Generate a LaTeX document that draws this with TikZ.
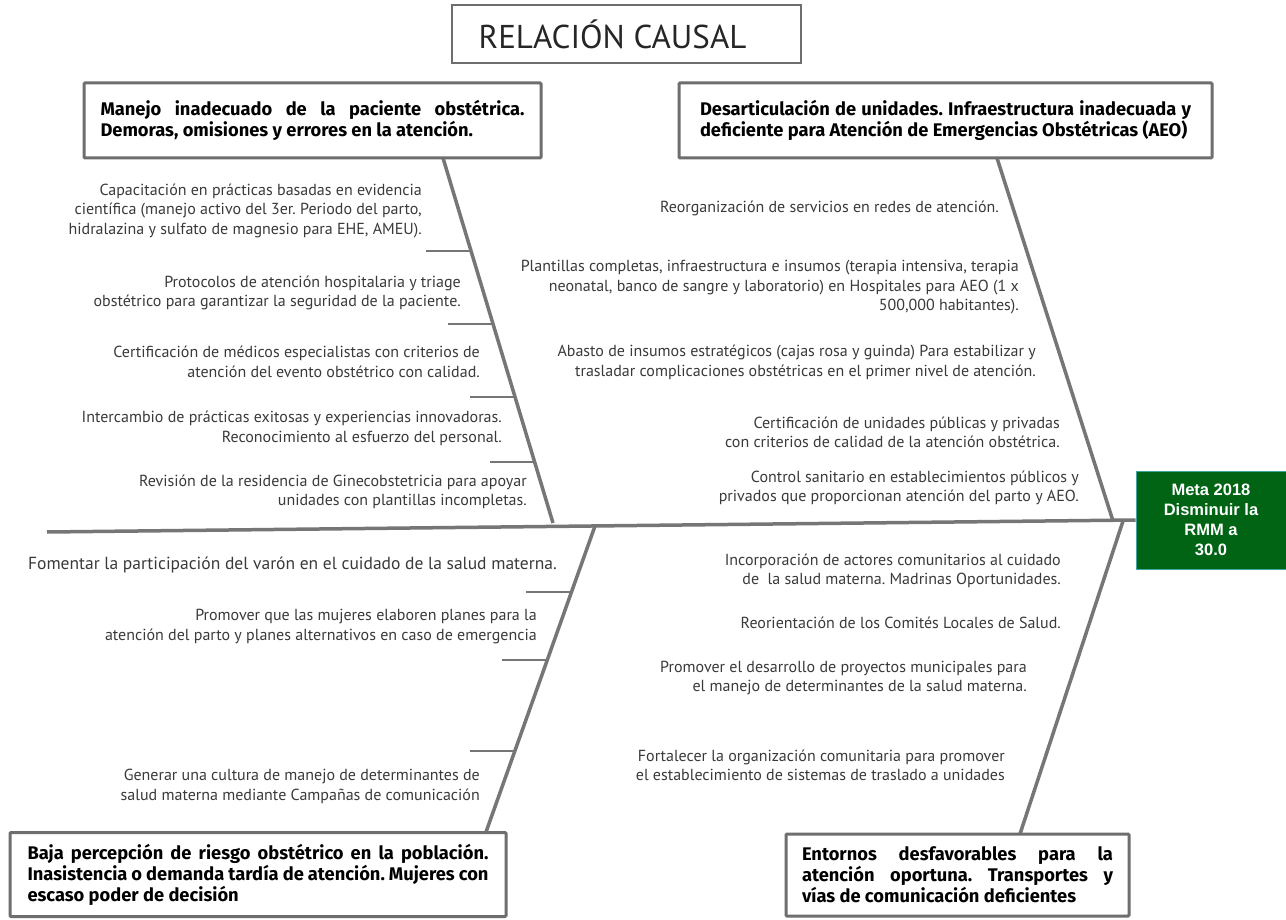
\documentclass[tikz,border=0pt]{standalone}
\usepackage{fontspec}
\setmainfont{PT Sans}
\newfontfamily\boxfont{Fira Sans}
\newfontfamily\arialfont{Liberation Sans}
\usetikzlibrary{calc}
\definecolor{bonegray}{HTML}{767676}
\definecolor{boxgray}{HTML}{6E6E6E}
\definecolor{labelgray}{HTML}{3A3A3A}
\definecolor{goalgreen}{HTML}{006414}
\definecolor{goalborder}{HTML}{3FA7A0}
\frenchspacing
\begin{document}
\begin{tikzpicture}[x=1pt,y=-1pt,
  causebox/.style={draw=boxgray, line width=3pt, fill=white, align=left, rounded corners=1pt,
    font=\boxfont\bfseries\fontsize{18.3}{21}\selectfont, text=black, inner ysep=0pt},
  lbl/.style={align=right, anchor=east, text=labelgray, inner sep=0pt,
    font=\fontsize{16}{19.5}\selectfont},
  bone/.style={draw=bonegray, line width=3.5pt},
  ticksty/.style={draw=bonegray, line width=2.6pt},
]
\useasboundingbox (0,0) rectangle (1286,920);
\fill[white] (0,0) rectangle (1286,920);

% goal
\node[fill=goalgreen, draw=goalborder, line width=0.8pt, minimum width=150pt, minimum height=98pt,
  text=white, align=center, font=\arialfont\bfseries\fontsize{16.5}{20}\selectfont] (goal) at (1211,520)
  {Meta 2018\\Disminuir la\\RMM a\\30.0};

% spine
\coordinate (spineL) at (47,532);
\draw[bone] (spineL) -- (goal.west);

% bone coordinates
\coordinate (tlTop) at (443,158); \coordinate (tlBot) at (553,523);
\coordinate (trTop) at (997,158); \coordinate (trBot) at (1113,521);
\coordinate (blTop) at (595,526); \coordinate (blBot) at (486,832);
\coordinate (brTop) at (1123,521); \coordinate (brBot) at (1020,834);

\draw[bone] (tlTop) -- (tlBot);
\draw[bone] (trTop) -- (trBot);
\draw[bone] (blTop) -- (blBot);
\draw[bone] (brTop) -- (brBot);

% ticks
\coordinate (ta) at ($(tlTop)!0.2548!(tlBot)$);
\coordinate (tb) at ($(tlTop)!0.4548!(tlBot)$);
\coordinate (tc) at ($(tlTop)!0.6548!(tlBot)$);
\coordinate (td) at ($(tlTop)!0.8329!(tlBot)$);
\coordinate (ba) at ($(blTop)!0.2157!(blBot)$);
\coordinate (bb) at ($(blTop)!0.4379!(blBot)$);
\coordinate (bc) at ($(blTop)!0.7353!(blBot)$);
\foreach \t in {ta,tb,tc,td,ba,bb,bc} { \draw[ticksty] (\t) -- ++(-45,0); }

% title
\node[draw=boxgray, line width=2.6pt, minimum width=349pt, minimum height=58pt,
  font=\fontsize{33}{35}\selectfont, text=black!85] (title) at (626.5,34) {\hspace*{-28pt}RELACIÓN CAUSAL};

% cause boxes
\node[causebox, inner xsep=16.5pt, minimum height=75pt] (boxA) at (312.5,120.5)
  {\makebox[424pt][s]{Manejo inadecuado de la paciente obstétrica.}\\
   \makebox[424pt][l]{Demoras, omisiones y errores en la atención.}};
\node[causebox, inner xsep=21pt, minimum height=75pt] (boxB) at (945.5,120.5)
  {\makebox[491pt][s]{Desarticulación de unidades. Infraestructura inadecuada y}\\
   \makebox[491pt][l]{deficiente para Atención de Emergencias Obstétricas (AEO)}};
\node[causebox, inner xsep=17.5pt, minimum height=84pt] (boxC) at (258,874.5)
  {\makebox[461pt][s]{Baja percepción de riesgo obstétrico en la población.}\\
   \makebox[461pt][s]{Inasistencia o demanda tardía de atención. Mujeres con}\\
   \makebox[461pt][l]{escaso poder de decisión}};
\node[causebox, inner xsep=16pt, minimum height=82pt] (boxD) at (957.5,875)
  {\makebox[311pt][s]{Entornos desfavorables para la}\\
   \makebox[311pt][s]{atención oportuna. Transportes y}\\
   \makebox[311pt][l]{vías de comunicación deficientes}};

% labels top-left
\node[lbl] (l1) at (422,211) {Capacitación en prácticas basadas en evidencia\\científica (manejo activo del 3er. Periodo del parto,\\hidralazina y sulfato de magnesio para EHE, AMEU).};
\node[lbl] (l2) at (461,293) {Protocolos de atención hospitalaria y triage\\obstétrico para garantizar la seguridad de la paciente.};
\node[lbl] (l3) at (480,362) {Certificación de médicos especialistas con criterios de\\atención del evento obstétrico con calidad.};
\node[lbl] (l4) at (502,428.5) {Intercambio de prácticas exitosas y experiencias innovadoras.\\Reconocimiento al esfuerzo del personal.};
\node[lbl] (l5) at (527,492) {Revisión de la residencia de Ginecobstetricia para apoyar\\unidades con plantillas incompletas.};

% labels top-right
\node[lbl] (r1) at (999,208) {Reorganización de servicios en redes de atención.};
\node[lbl] (r2) at (1019,287.5) {Plantillas completas, infraestructura e insumos (terapia intensiva, terapia\\neonatal, banco de sangre y laboratorio) en Hospitales para AEO (1 x\\500,000 habitantes).};
\node[lbl] (r3) at (1036,362.5) {Abasto de insumos estratégicos (cajas rosa y guinda) Para estabilizar y\\trasladar complicaciones obstétricas en el primer nivel de atención.};
\node[lbl] (r4) at (1060,432.5) {Certificación de unidades públicas y privadas\\con criterios de calidad de la atención obstétrica.};
\node[lbl] (r5) at (1079,488) {Control sanitario en establecimientos públicos y\\privados que proporcionan atención del parto y AEO.};

% labels bottom-left
\node[lbl, font=\fontsize{17.5}{20}\selectfont] (m1) at (557,565) {Fomentar la participación del varón en el cuidado de la salud materna.};
\node[lbl] (m2) at (537,626.5) {Promover que las mujeres elaboren planes para la\\atención del parto y planes alternativos en caso de emergencia};
\node[lbl] (m3) at (480,786.5) {Generar una cultura de manejo de determinantes de\\salud materna mediante Campañas de comunicación};

% labels bottom-right
\node[lbl] (n1) at (1061,571) {Incorporación de actores comunitarios al cuidado\\de\ \ la salud materna. Madrinas Oportunidades.};
\node[lbl] (n2) at (1061,623) {Reorientación de los Comités Locales de Salud.};
\node[lbl] (n3) at (1027,678) {Promover el desarrollo de proyectos municipales para\\el manejo de determinantes de la salud materna.};
\node[lbl] (n4) at (1005,765.5) {Fortalecer la organización comunitaria para promover\\el establecimiento de sistemas de traslado a unidades};
\end{tikzpicture}
\end{document}
